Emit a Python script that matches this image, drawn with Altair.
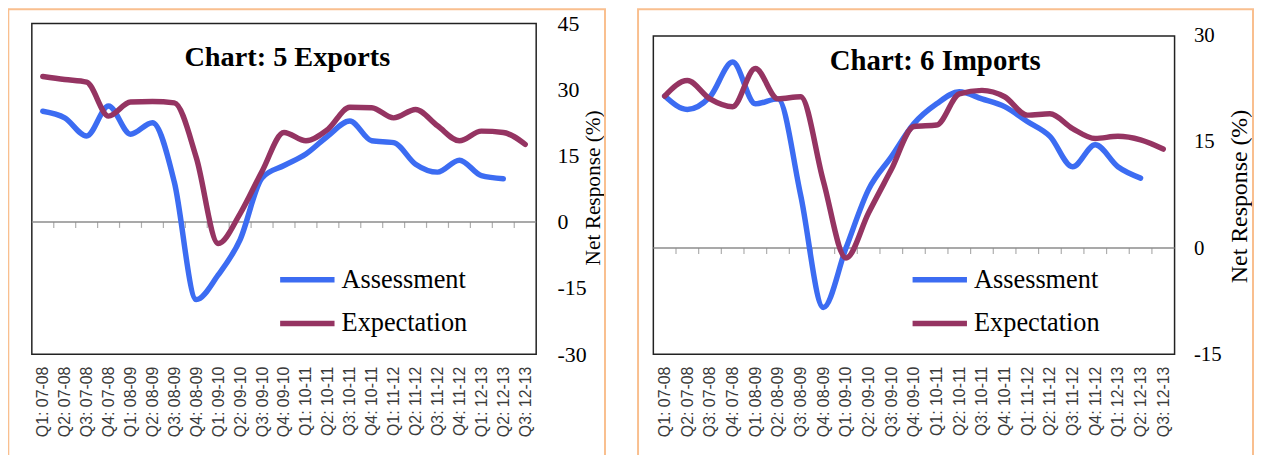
import altair as alt
import pandas as pd

QUARTERS = ["Q1: 07-08", "Q2: 07-08", "Q3: 07-08", "Q4: 07-08",
            "Q1: 08-09", "Q2: 08-09", "Q3: 08-09", "Q4: 08-09",
            "Q1: 09-10", "Q2: 09-10", "Q3: 09-10", "Q4: 09-10",
            "Q1: 10-11", "Q2: 10-11", "Q3: 10-11", "Q4: 10-11",
            "Q1: 11-12", "Q2: 11-12", "Q3: 11-12", "Q4: 11-12",
            "Q1: 12-13", "Q2: 12-13", "Q3: 12-13"]
SERIES = ["Assessment", "Expectation"]
COLORS = ["#3C6CF2", "#953462"]

EXPORTS_TITLE = "Chart: 5 Exports"
EXPORTS_ASSESSMENT = [25.1, 23.6, 19.5, 26.3, 19.9, 22.5, 9.0, -17.6, -12.0, -4.0, 10.0,
                      12.8, 15.4, 19.5, 22.9, 18.4, 18.0, 13.1, 11.3, 14.0, 10.5, 9.8]
EXPORTS_EXPECTATION = [33.0, 32.3, 31.7, 24.0, 27.2, 27.3, 27.0, 14.6, -4.9, 1.9, 11.5,
                       20.3, 18.4, 21.0, 26.0, 25.9, 23.6, 25.5, 21.8, 18.4, 20.6, 20.3, 17.6]
EXPORTS_TICKS = [-30, -15, 0, 15, 30, 45]
EXPORTS_DOMAIN = [-30, 45]

IMPORTS_TITLE = "Chart: 6 Imports"
IMPORTS_ASSESSMENT = [21.5, 19.6, 21.4, 26.3, 20.4, 21.1, 7.5, -8.4, 0.0, 8.3, 12.9,
                      17.6, 20.4, 22.1, 21.1, 20.0, 17.9, 15.8, 11.5, 14.6, 11.5, 9.9]
IMPORTS_EXPECTATION = [21.5, 23.7, 21.1, 20.0, 25.4, 21.1, 21.4, 9.5, -1.4, 5.0, 11.1,
                       17.2, 17.4, 21.8, 22.3, 21.4, 18.8, 19.0, 16.9, 15.5, 15.8, 15.3, 14.0]
IMPORTS_TICKS = [-15, 0, 15, 30]
# the imports plot starts lower on the page: the view is extended upward
# and its frame is drawn from -15 to 30 only
IMPORTS_DOMAIN = [-15, 31.75]

Y_TITLE = "Net Response (%)"

SERIF = "Liberation Serif"
SANS = "Liberation Sans"
ORANGE = "#F9BF8F"
GRAY = "#8c8c8c"


def long_frame(assess, expect):
    rows = []
    for name, vals in zip(SERIES, [assess, expect]):
        for q, v in zip(QUARTERS, vals):
            rows.append({"quarter": q, "series": name, "value": v})
    return pd.DataFrame(rows)


def panel(title, assess, expect, ticks, domain, w, h, box, title_pos, title_size,
          ylab_size, ytitle_size, ytitle_x, ytitle_y, lab_pad, leg_x, leg_y, row_pad):
    df = long_frame(assess, expect)
    one = pd.DataFrame({"title": [title]})
    qdf = pd.DataFrame({"quarter": QUARTERS[:-1]})
    step = w / len(QUARTERS)

    xenc = alt.X("quarter:N", sort=QUARTERS, title=None,
                 scale=alt.Scale(type="point", padding=0.5),
                 axis=alt.Axis(labelAngle=270, labelFont=SANS, labelFontSize=16,
                               labelColor="#3a3a3a", ticks=False, tickSize=0,
                               domain=False, labelPadding=12, labelOverlap=False,
                               grid=False))
    yscale = alt.Scale(domain=domain, nice=False, zero=False)
    yenc = alt.Y("value:Q", scale=yscale,
                 axis=alt.Axis(orient="right", values=ticks, grid=False, ticks=False,
                               tickSize=0, domain=False, labelFont=SERIF,
                               labelFontSize=ylab_size, labelColor="black",
                               labelExpr="datum.value + ''",
                               labelPadding=lab_pad, title=Y_TITLE, titleFont=SERIF,
                               titleFontSize=ytitle_size, titleFontWeight="normal",
                               titleColor="black", titleAngle=270,
                               titleBaseline="middle", titleAlign="center",
                               titleX=ytitle_x, titleY=ytitle_y))

    border = alt.Chart(one).mark_rect(filled=False, stroke=ORANGE, strokeWidth=2).encode(
        x=alt.value(box[0]), x2=alt.value(box[1]),
        y=alt.value(box[2]), y2=alt.value(box[3]))

    frame = alt.Chart(one).mark_rect(filled=False, stroke="#222222", strokeWidth=1.5).encode(
        x=alt.value(0), x2=alt.value(w),
        y=alt.datum(ticks[-1], scale=yscale), y2=alt.datum(ticks[0]))

    zero = alt.Chart(one).mark_rule(color=GRAY, strokeWidth=1.5).encode(y=alt.datum(0))

    tick = alt.Chart(qdf).mark_tick(orient="vertical", size=6, thickness=1.2, color=GRAY,
                                    xOffset=step / 2, yOffset=3).encode(
        x=xenc, y=alt.datum(0))

    lines = alt.Chart(df).mark_line(interpolate="monotone", strokeWidth=5.5,
                                    strokeCap="round", strokeJoin="round").encode(
        x=xenc, y=yenc,
        color=alt.Color("series:N", scale=alt.Scale(domain=SERIES, range=COLORS),
                        legend=alt.Legend(title=None, orient="none", legendX=leg_x,
                                          legendY=leg_y, symbolType="stroke",
                                          symbolSize=3000, symbolStrokeWidth=5.5,
                                          labelFont=SERIF, labelFontSize=26.5,
                                          labelColor="black", rowPadding=row_pad,
                                          labelOffset=4, labelLimit=300)))

    head = alt.Chart(one).mark_text(font=SERIF, fontWeight="bold", fontSize=title_size,
                                    color="black", baseline="middle", align="center").encode(
        x=alt.value(title_pos[0]), y=alt.value(title_pos[1]), text="title:N")

    return alt.layer(border, frame, zero, tick, lines, head).properties(width=w, height=h)


left = panel(EXPORTS_TITLE, EXPORTS_ASSESSMENT, EXPORTS_EXPECTATION, EXPORTS_TICKS,
             EXPORTS_DOMAIN, 508, 333, (-23.7, 577.3, -14.3, 446.7), (257.3, 34.2), 28.5,
             22, 21.5, 58, 165, 21, 247, 227.6, -8.1)
right = panel(IMPORTS_TITLE, IMPORTS_ASSESSMENT, IMPORTS_EXPECTATION, IMPORTS_TICKS,
              IMPORTS_DOMAIN, 525, 333, (-15.4, 604.0, -14.3, 446.7), (284.0, 38.0), 29,
              21, 24, 65, 173.7, 19, 258, 227.6, -11.4)

chart = alt.hconcat(left, right, spacing=30).resolve_scale(
    x="independent", y="independent", color="independent"
).resolve_legend(color="independent").properties(
    padding={"left": -1, "top": -2, "right": 0, "bottom": 0}, background="white"
).configure_view(strokeWidth=0)

chart.save("out.html", embed_options={"renderer": "svg", "actions": False})
